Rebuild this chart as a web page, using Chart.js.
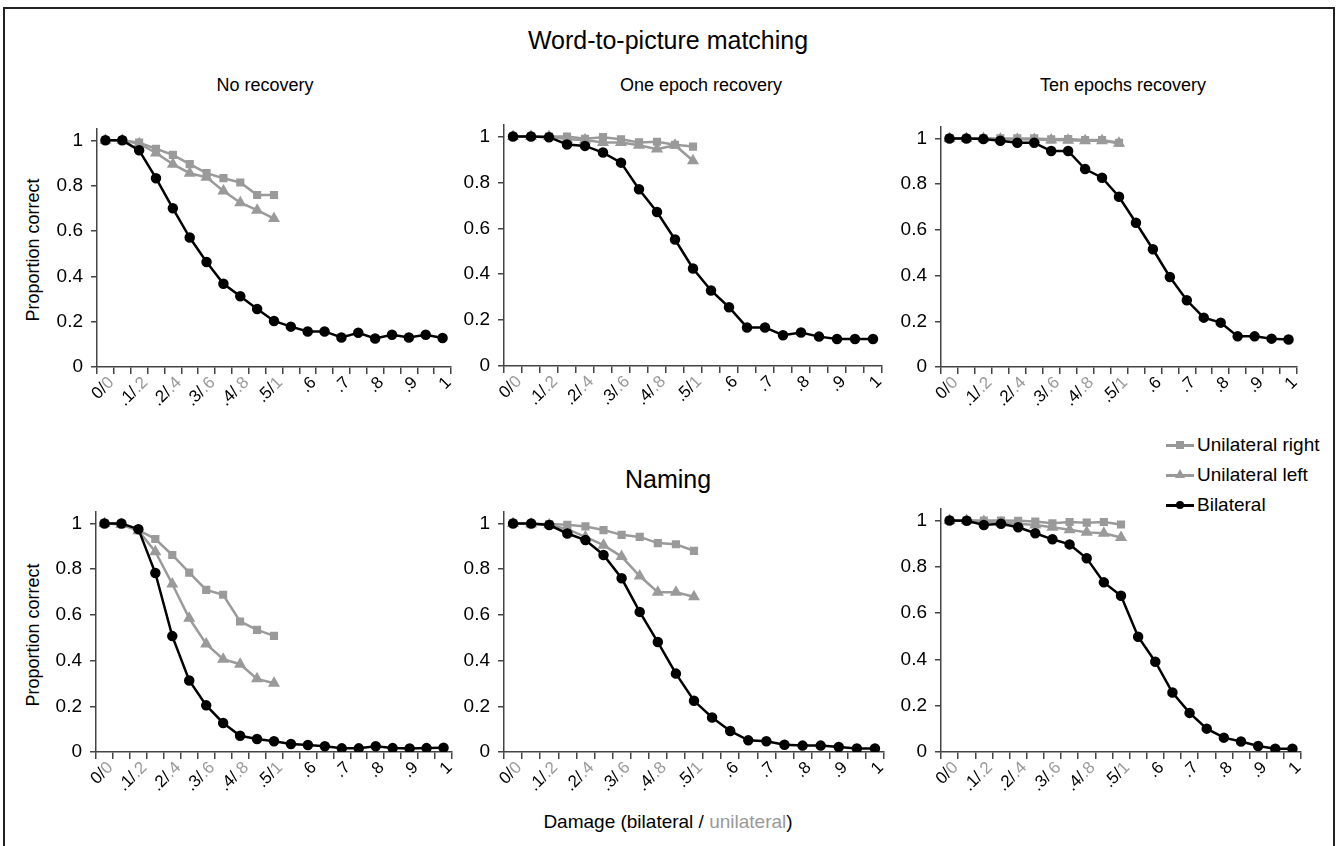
<!DOCTYPE html>
<html>
<head>
<meta charset="utf-8">
<script src="https://cdn.jsdelivr.net/npm/chart.js@4.4.0/dist/chart.umd.min.js"></script>
<style>
  body { margin: 0; background: #fff; font-family: "Liberation Sans", Arial, sans-serif; }
  #fig { position: relative; width: 1336px; height: 846px; overflow: hidden; }
  #frame { position: absolute; left: 3px; top: 7px; width: 1328px; height: 845px; border: 2px solid #222; }
  .txt { position: absolute; white-space: nowrap; color: #000; transform: translate(-50%, -50%); }
  .ytitle { transform: translate(-50%, -50%) rotate(-90deg); font-size: 18px; }
  canvas { position: absolute; }
  .leg { position: absolute; left: 1166px; font-size: 19px; height: 20px; line-height: 20px; }
  .leg .ln { position: absolute; left: 0; top: 9px; width: 28px; height: 2.5px; }
  .leg .lb { position: absolute; left: 31px; top: 0; white-space: nowrap; }
  .leg .sq { position: absolute; left: 10px; top: 6px; width: 8px; height: 8px; background: #999; }
  .leg .tri { position: absolute; left: 9px; top: 4px; width: 0; height: 0; border-left: 5px solid transparent; border-right: 5px solid transparent; border-bottom: 9px solid #999; }
  .leg .dot { position: absolute; left: 10px; top: 6px; width: 8px; height: 8px; border-radius: 50%; background: #000; }
</style>
</head>
<body>
<div id="fig">
  <div id="frame"></div>
  <div class="txt" style="left:668px; top:40px; font-size:25px;">Word-to-picture matching</div>
  <div class="txt" style="left:265px; top:85px; font-size:18px;">No recovery</div>
  <div class="txt" style="left:701px; top:85px; font-size:18px;">One epoch recovery</div>
  <div class="txt" style="left:1123px; top:85px; font-size:18px;">Ten epochs recovery</div>
  <div class="txt" style="left:668px; top:479px; font-size:25px;">Naming</div>
  <div class="txt" style="left:668px; top:822px; font-size:19px;">Damage (bilateral / <span style="color:#999">unilateral</span>)</div>
  <div class="txt ytitle" style="left:33px; top:250px;">Proportion correct</div>
  <div class="txt ytitle" style="left:33px; top:635px;">Proportion correct</div>

  <div class="leg" style="top:435px;"><span class="ln" style="background:#999"></span><span class="sq"></span><span class="lb">Unilateral right</span></div>
  <div class="leg" style="top:465px;"><span class="ln" style="background:#999"></span><span class="tri"></span><span class="lb">Unilateral left</span></div>
  <div class="leg" style="top:495px;"><span class="ln" style="background:#000"></span><span class="dot"></span><span class="lb">Bilateral</span></div>

  <canvas id="c0"></canvas>
  <canvas id="c1"></canvas>
  <canvas id="c2"></canvas>
  <canvas id="c3"></canvas>
  <canvas id="c4"></canvas>
  <canvas id="c5"></canvas>
</div>

<script>
// bilateral damage levels (21 steps), unilateral series stop at .5 bilateral
const damage = ['0', '.05', '.1', '.15', '.2', '.25', '.3', '.35', '.4', '.45', '.5',
                '.55', '.6', '.65', '.7', '.75', '.8', '.85', '.9', '.95', '1'];
const bilTicks = ['0', '.1', '.2', '.3', '.4', '.5', '.6', '.7', '.8', '.9', '1'];
const uniTicks = ['0', '.2', '.4', '.6', '.8', '1'];
const yTicks = [0, 0.2, 0.4, 0.6, 0.8, 1];

// Word-to-picture matching
const wpmNoBil = [1, 1, 0.956, 0.833, 0.70, 0.571, 0.463, 0.367, 0.312, 0.256, 0.203, 0.178, 0.157, 0.157, 0.130, 0.151, 0.126, 0.142, 0.130, 0.142, 0.128];
const wpmNoRight = [1, 1, 0.99, 0.963, 0.936, 0.895, 0.855, 0.833, 0.814, 0.759, 0.759];
const wpmNoLeft = [1, 1, 0.985, 0.944, 0.895, 0.855, 0.837, 0.777, 0.725, 0.692, 0.655];

const wpmOneBil = [1, 1, 0.997, 0.965, 0.959, 0.930, 0.886, 0.770, 0.671, 0.551, 0.425, 0.329, 0.256, 0.168, 0.168, 0.134, 0.146, 0.128, 0.118, 0.118, 0.118];
const wpmOneRight = [1, 1, 1, 1, 0.99, 0.997, 0.988, 0.974, 0.977, 0.964, 0.956];
const wpmOneLeft = [1, 1, 1, 0.988, 0.985, 0.974, 0.974, 0.962, 0.945, 0.962, 0.894];

const wpmTenBil = [1, 1, 0.997, 0.990, 0.981, 0.981, 0.945, 0.945, 0.866, 0.828, 0.745, 0.631, 0.515, 0.394, 0.292, 0.216, 0.194, 0.134, 0.134, 0.124, 0.120];
const wpmTenRight = [1, 1, 1, 1, 1, 1, 0.996, 0.997, 0.993, 0.993, 0.981];
const wpmTenLeft = [1, 1, 1, 0.997, 0.996, 0.995, 0.993, 0.992, 0.990, 0.990, 0.979];

// Naming
const namNoBil = [1, 1, 0.975, 0.783, 0.507, 0.313, 0.204, 0.127, 0.071, 0.057, 0.047, 0.035, 0.031, 0.025, 0.016, 0.016, 0.025, 0.017, 0.015, 0.017, 0.019];
const namNoRight = [1, 0.997, 0.971, 0.932, 0.862, 0.785, 0.709, 0.688, 0.571, 0.534, 0.508];
const namNoLeft = [1, 0.995, 0.968, 0.876, 0.735, 0.585, 0.473, 0.406, 0.384, 0.320, 0.301];

const namOneBil = [1, 1, 0.993, 0.956, 0.927, 0.862, 0.760, 0.613, 0.481, 0.343, 0.224, 0.151, 0.092, 0.051, 0.047, 0.032, 0.028, 0.028, 0.022, 0.015, 0.015];
const namOneRight = [1, 0.997, 0.997, 0.994, 0.987, 0.971, 0.950, 0.941, 0.914, 0.909, 0.880];
const namOneLeft = [1, 0.997, 0.994, 0.975, 0.941, 0.905, 0.855, 0.770, 0.699, 0.699, 0.679];

const namTenBil = [1, 0.999, 0.981, 0.986, 0.971, 0.945, 0.919, 0.897, 0.837, 0.733, 0.675, 0.498, 0.390, 0.257, 0.169, 0.101, 0.062, 0.045, 0.026, 0.014, 0.014];
const namTenRight = [1, 1, 1, 1, 0.999, 0.996, 0.988, 0.994, 0.991, 0.994, 0.983];
const namTenLeft = [1, 1, 0.996, 0.991, 0.986, 0.981, 0.971, 0.960, 0.949, 0.945, 0.927];

const GREY = '#9a9a9a';
const FONT = '"Liberation Sans", Arial, sans-serif';
const yW = 60, xH = 52, padT = 4, padR = 6;

// plot boxes: y-axis x, right end of x-axis, top of y-axis, zero line
const boxes = [
  { left: 97, right: 451, top: 129, bottom: 367 },
  { left: 504, right: 882, top: 125, bottom: 366 },
  { left: 941, right: 1297, top: 127, bottom: 367 },
  { left: 96, right: 452, top: 512, bottom: 752 },
  { left: 504, right: 884, top: 512, bottom: 752 },
  { left: 941, right: 1301, top: 509, bottom: 752 }
];

// x labels like "0/0" with the unilateral half in grey
const twoTone = {
  id: 'twoTone',
  afterDraw(chart) {
    const xs = chart.scales.x, c = chart.ctx;
    c.save();
    c.font = '17px ' + FONT;
    c.textAlign = 'left';
    c.textBaseline = 'middle';
    for (let k = 0; k < bilTicks.length; k++) {
      const black = bilTicks[k] + (k < uniTicks.length ? '/' : '');
      const grey = k < uniTicks.length ? uniTicks[k] : '';
      const w = c.measureText(black + grey).width;
      const px = xs.getPixelForValue(k * 2);
      c.save();
      c.translate(px + 6, xs.top + 13);
      c.rotate(-Math.PI / 4);
      c.fillStyle = '#000';
      c.fillText(black, -w, 0);
      c.fillStyle = GREY;
      c.fillText(grey, -w + c.measureText(black).width, 0);
      c.restore();
    }
    c.restore();
  }
};

function makePanel(id, box, bil, right, left) {
  const cv = document.getElementById(id);
  const w = yW + (box.right - box.left) + padR;
  const h = padT + (box.bottom - box.top) + xH;
  cv.width = w; cv.height = h;
  cv.style.left = (box.left - yW) + 'px';
  cv.style.top = (box.top - padT) + 'px';
  cv.style.width = w + 'px'; cv.style.height = h + 'px';

  return new Chart(cv, {
    type: 'line',
    data: {
      labels: damage,
      datasets: [
        { label: 'Bilateral', data: bil, borderColor: '#000', backgroundColor: '#000',
          borderWidth: 2.5, pointStyle: 'circle', pointRadius: 4, order: 0 },
        { label: 'Unilateral left', data: left, borderColor: GREY, backgroundColor: GREY,
          borderWidth: 2.5, pointStyle: 'triangle', pointRadius: 4.5, order: 1 },
        { label: 'Unilateral right', data: right, borderColor: GREY, backgroundColor: GREY,
          borderWidth: 2.5, pointStyle: 'rect', pointRadius: 4, order: 2 }
      ]
    },
    options: {
      responsive: false,
      animation: false,
      events: [],
      layout: { autoPadding: false, padding: { top: padT, right: padR, left: 0, bottom: 0 } },
      plugins: { legend: { display: false }, tooltip: { enabled: false } },
      elements: { line: { tension: 0 }, point: { borderWidth: 0 } },
      scales: {
        x: {
          type: 'category',
          offset: true,
          grid: { offset: true, drawOnChartArea: false, drawTicks: true, tickLength: 7, color: '#444', lineWidth: 1.5 },
          border: { color: '#444', width: 1.5 },
          ticks: { display: false, autoSkip: false },
          afterFit(s) { s.height = xH; s.paddingLeft = 0; s.paddingRight = 0; }
        },
        y: {
          min: 0,
          max: 1.05,
          afterBuildTicks(s) { s.ticks = yTicks.map(v => ({ value: v })); },
          grid: { drawOnChartArea: false, drawTicks: true, tickLength: 6, color: '#444', lineWidth: 1.5 },
          border: { color: '#444', width: 1.5 },
          ticks: { color: '#000', font: { size: 19, family: FONT }, padding: 8,
                   callback: v => String(+v.toFixed(1)) },
          afterFit(s) { s.width = yW; s.paddingTop = 0; s.paddingBottom = 0; }
        }
      }
    },
    plugins: [twoTone]
  });
}

makePanel('c0', boxes[0], wpmNoBil, wpmNoRight, wpmNoLeft);
makePanel('c1', boxes[1], wpmOneBil, wpmOneRight, wpmOneLeft);
makePanel('c2', boxes[2], wpmTenBil, wpmTenRight, wpmTenLeft);
makePanel('c3', boxes[3], namNoBil, namNoRight, namNoLeft);
makePanel('c4', boxes[4], namOneBil, namOneRight, namOneLeft);
makePanel('c5', boxes[5], namTenBil, namTenRight, namTenLeft);
</script>
</body>
</html>
